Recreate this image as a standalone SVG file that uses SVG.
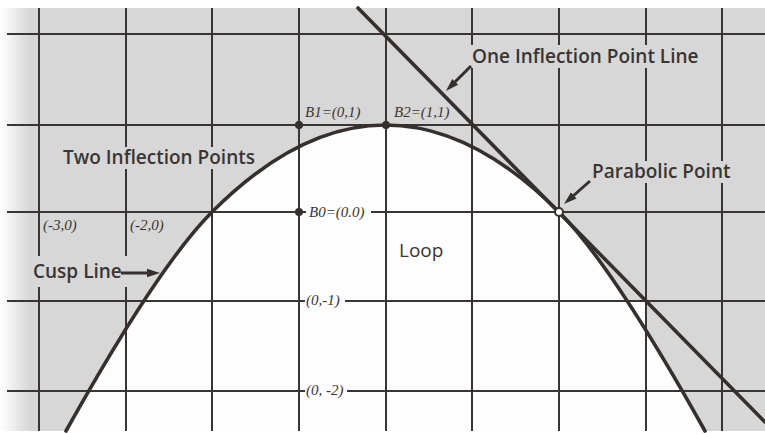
<svg xmlns="http://www.w3.org/2000/svg" width="765" height="434" viewBox="0 0 765 434">
  <defs>
    <linearGradient id="fade" gradientUnits="userSpaceOnUse" x1="0" y1="0" x2="30" y2="0">
      <stop offset="0" stop-color="#ffffff"/>
      <stop offset="1" stop-color="#d7d7d7"/>
    </linearGradient>
    <marker id="head" markerUnits="userSpaceOnUse" markerWidth="16" markerHeight="12" refX="7" refY="5" orient="auto">
      <path d="M0,0.8 L13,5 L0,9.2 z" fill="#35302d"/>
    </marker>
    <style>
      .grid { stroke: #3a3532; stroke-width: 2; fill: none; }
      .curve { stroke: #35302d; stroke-width: 3.6; fill: none; stroke-linecap: round; }
      .kg { fill: #d7d7d7; }
      .kw { fill: #fdfdfd; }
      .lbl { font-family: "Open Sans", "Liberation Sans", sans-serif; font-weight: 600; font-size: 19px; fill: #3a3532; }
      .loop { font-family: "Open Sans", "Liberation Sans", sans-serif; font-weight: 400; font-size: 19px; fill: #3a3532; }
      .coord { font-family: "Liberation Serif", "Times New Roman", serif; font-style: italic; font-size: 15px; fill: #3a3532; }
      .arrow { stroke: #35302d; stroke-width: 3; fill: none; marker-end: url(#head); }
      .dot { fill: #35302d; }
    </style>
  </defs>

  <!-- paper and fills -->
  <rect x="0" y="0" width="765" height="434" fill="#ffffff"/>
  <rect x="0" y="8" width="765" height="423" fill="url(#fade)"/>
  <path id="loop-region" d="M66,431 Q158.5,265.5 212,212 Q385.5,38 559,212 Q612.5,265.5 705,431 Z" fill="#fdfdfd"/>
  <path d="M627,301 L646,301 L646,331 Z" fill="#fdfdfd"/>

  <!-- grid -->
  <g id="grid" class="grid">
    <line x1="39" y1="8" x2="39" y2="431"/>
    <line x1="126" y1="8" x2="126" y2="431"/>
    <line x1="212" y1="8" x2="212" y2="431"/>
    <line x1="299" y1="8" x2="299" y2="431"/>
    <line x1="386" y1="8" x2="386" y2="431"/>
    <line x1="472" y1="8" x2="472" y2="431"/>
    <line x1="559" y1="8" x2="559" y2="431"/>
    <line x1="646" y1="8" x2="646" y2="431"/>
    <line x1="722" y1="8" x2="722" y2="431"/>
    <line x1="7" y1="34" x2="765" y2="34"/>
    <line x1="7" y1="125" x2="765" y2="125"/>
    <line x1="7" y1="212" x2="765" y2="212"/>
    <line x1="7" y1="301" x2="765" y2="301"/>
    <line x1="7" y1="391" x2="765" y2="391"/>
  </g>

  <!-- label knockouts -->
  <g id="knockouts">
    <rect class="kg" x="60" y="147" width="198" height="22"/>
    <rect class="kg" x="29" y="256" width="120" height="31"/>
    <rect class="kg" x="468" y="45" width="236" height="23"/>
    <rect class="kg" x="588" y="161" width="146" height="22"/>
    <rect class="kw" x="306" y="204" width="65" height="16"/>
    <rect class="kw" x="305" y="293" width="40" height="16"/>
    <rect class="kw" x="305" y="383" width="42" height="16"/>
  </g>

  <!-- curves -->
  <g id="cusp-line">
    <path class="curve" d="M66,431 Q158.5,265.5 212,212 Q385.5,38 559,212 Q612.5,265.5 705,431"/>
  </g>
  <g id="inflection-line">
    <line class="curve" x1="358" y1="8" x2="765" y2="422"/>
  </g>

  <!-- points -->
  <g id="B1">
    <circle class="dot" cx="299" cy="125" r="4"/>
    <text class="coord" x="305" y="117">B1=(0,1)</text>
  </g>
  <g id="B2">
    <circle class="dot" cx="386" cy="125" r="4"/>
    <text class="coord" x="394" y="117">B2=(1,1)</text>
  </g>
  <g id="B0">
    <circle class="dot" cx="299" cy="212" r="4"/>
    <text class="coord" x="309" y="217">B0=(0.0)</text>
  </g>
  <g id="parabolic-point">
    <circle cx="559" cy="212" r="4" fill="#ffffff" stroke="#35302d" stroke-width="2"/>
    <text class="lbl" x="592" y="178">Parabolic Point</text>
  </g>

  <!-- axis labels -->
  <g id="axis-labels">
    <text class="coord" x="43" y="230">(-3,0)</text>
    <text class="coord" x="130" y="230">(-2,0)</text>
    <text class="coord" x="306" y="305">(0,-1)</text>
    <text class="coord" x="306" y="395">(0, -2)</text>
  </g>

  <!-- region labels -->
  <g id="two-inflection">
    <text class="lbl" x="63" y="164">Two Inflection Points</text>
  </g>
  <g id="one-inflection">
    <text class="lbl" x="472" y="63">One Inflection Point Line</text>
  </g>
  <g id="cusp-label">
    <text class="lbl" x="33" y="278">Cusp Line</text>
  </g>
  <g id="loop">
    <text class="loop" x="399" y="257">Loop</text>
  </g>

  <!-- connectors -->
  <g id="connectors">
    <line class="arrow" x1="121" y1="273" x2="154" y2="273"/>
    <line class="arrow" x1="471" y1="66" x2="450.2" y2="86.8"/>
    <line class="arrow" x1="590" y1="181" x2="568.5" y2="200"/>
  </g>
</svg>
